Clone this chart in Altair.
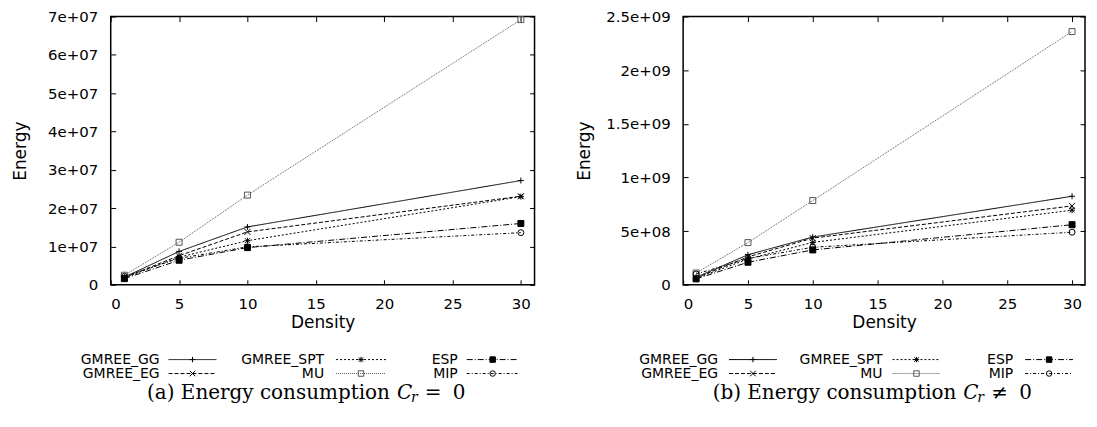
import altair as alt
import pandas as pd

# ---------------- data ----------------
density = [1, 5, 10, 30]
series = ["GMREE_GG", "GMREE_EG", "GMREE_SPT", "MU", "ESP", "MIP"]

# (a) C_r = 0
a_gg = [2.0e6, 8.7e6, 1.51e7, 2.72e7]
a_eg = [1.9e6, 7.6e6, 1.38e7, 2.31e7]
a_spt = [1.8e6, 7.2e6, 1.15e7, 2.30e7]
a_mu = [2.5e6, 1.11e7, 2.34e7, 6.92e7]
a_esp = [1.6e6, 6.4e6, 9.7e6, 1.60e7]
a_mip = [2.2e6, 6.9e6, 9.9e6, 1.36e7]

# (b) C_r != 0
b_gg = [7.0e7, 2.80e8, 4.45e8, 8.25e8]
b_eg = [6.5e7, 2.60e8, 4.35e8, 7.35e8]
b_spt = [6.0e7, 2.40e8, 3.95e8, 6.95e8]
b_mu = [1.1e8, 3.93e8, 7.85e8, 2.36e9]
b_esp = [5.5e7, 2.10e8, 3.25e8, 5.60e8]
b_mip = [1.0e8, 2.45e8, 3.50e8, 4.90e8]

a_ticks = [0, 1e7, 2e7, 3e7, 4e7, 5e7, 6e7, 7e7]
b_ticks = [0, 5e8, 1e9, 1.5e9, 2e9, 2.5e9]
x_ticks = [0, 5, 10, 15, 20, 25, 30]

# ---------------- styles ----------------
STROKES = ["black", "black", "black", "#555555", "black", "black"]
DASHES = [[1, 0], [4, 2], [2, 2], [1, 1], [6, 2, 1, 2], [3, 2, 1, 2]]
PLUS = "M-1,0L1,0M0,-1L0,1"
CROSS = "M-1,-1L1,1M-1,1L1,-1"
STAR = "M-1,0L1,0M0,-1L0,1M-0.8,-0.8L0.8,0.8M-0.8,0.8L0.8,-0.8"
SHAPES = [PLUS, CROSS, STAR, "square", "square", "circle"]
FILLS = ["transparent", "transparent", "transparent", "transparent", "black", "transparent"]

SANS = "DejaVu Sans"
SERIF = "DejaVu Serif"
H = 269


def enc_scales():
    return dict(
        stroke=alt.Stroke("series:N", scale=alt.Scale(domain=series, range=STROKES), legend=None),
        strokeDash=alt.StrokeDash("series:N", scale=alt.Scale(domain=series, range=DASHES), legend=None),
    )


def marker_enc():
    return dict(
        shape=alt.Shape("series:N", scale=alt.Scale(domain=series, range=SHAPES), legend=None),
        fill=alt.Fill("series:N", scale=alt.Scale(domain=series, range=FILLS), legend=None),
        stroke=alt.Stroke("series:N", scale=alt.Scale(domain=series, range=STROKES), legend=None),
    )


def panel(vals, W, ymax, yticks, title_pad, leg_lx, leg_sx, leg_y, cap):
    rows = []
    for s, v in zip(series, vals):
        for d, e in zip(density, v):
            rows.append({"series": s, "density": d, "energy": e})
    df = pd.DataFrame(rows)

    xs = alt.Scale(domain=[0, 31], nice=False, zero=False)
    ys = alt.Scale(domain=[0, ymax], nice=False)
    label_expr = "datum.value == 0 ? '0' : replace(format(datum.value, '~e'), 'e+', 'e+0')"

    x_axis = alt.Axis(values=x_ticks, orient="bottom", offset=-5, tickSize=5, domain=False,
                      grid=False, labelPadding=12, title="Density", titlePadding=3)
    y_axis = alt.Axis(values=yticks, orient="left", offset=-5, tickSize=5, domain=False,
                      grid=False, labelPadding=13, title="Energy", titlePadding=title_pad,
                      labelExpr=label_expr)
    x_axis2 = alt.Axis(values=x_ticks, orient="top", offset=-5, tickSize=5, domain=False,
                       grid=False, labels=False, title=None)
    y_axis2 = alt.Axis(values=yticks, orient="right", offset=-5, tickSize=5, domain=False,
                       grid=False, labels=False, title=None)

    lines = alt.Chart(df).mark_line(strokeWidth=1).encode(
        x=alt.X("density:Q", scale=xs, axis=x_axis),
        y=alt.Y("energy:Q", scale=ys, axis=y_axis),
        detail="series:N",
        **enc_scales(),
    )
    points = alt.Chart(df).mark_point(size=36, strokeWidth=1, opacity=1).encode(
        x=alt.X("density:Q", scale=xs, axis=x_axis2),
        y=alt.Y("energy:Q", scale=ys, axis=y_axis2),
        **marker_enc(),
    )

    # key (gnuplot style: label, then line sample with marker), 3 columns x 2 rows
    leg_rows = []
    for i, s in enumerate(series):
        c, r = i // 2, i % 2
        leg_rows.append({"series": s, "lx": leg_lx[c], "sx1": leg_sx[c][0], "sx2": leg_sx[c][1],
                         "mx": (leg_sx[c][0] + leg_sx[c][1]) / 2, "ly": leg_y[r]})
    leg = pd.DataFrame(leg_rows)
    leg_text = alt.Chart(leg).mark_text(align="right", baseline="middle", font=SANS, fontSize=14,
                                        color="black").encode(
        x=alt.X("lx:Q", scale=None), y=alt.Y("ly:Q", scale=None), text="series:N")
    leg_line = alt.Chart(leg).mark_rule(strokeWidth=1).encode(
        x=alt.X("sx1:Q", scale=None), x2="sx2:Q", y=alt.Y("ly:Q", scale=None), **enc_scales())
    leg_pt = alt.Chart(leg).mark_point(size=30, strokeWidth=1, opacity=1).encode(
        x=alt.X("mx:Q", scale=None), y=alt.Y("ly:Q", scale=None), **marker_enc())

    # caption
    cy = 378
    E = cap["end"]
    one = pd.DataFrame({"t": [0]})
    cap1 = alt.Chart(one).mark_text(align="right", baseline="middle", font=SERIF, fontSize=20,
                                    text=cap["main"]).encode(x=alt.value(E), y=alt.value(cy))
    capC = alt.Chart(one).mark_text(align="left", baseline="middle", font=SERIF, fontSize=20,
                                    fontStyle="italic", text="C").encode(x=alt.value(E + 7), y=alt.value(cy))
    capR = alt.Chart(one).mark_text(align="left", baseline="middle", font=SERIF, fontSize=14,
                                    fontStyle="italic", text="r").encode(x=alt.value(E + 21), y=alt.value(cy + 5))
    capO = alt.Chart(one).mark_text(align="left", baseline="middle", font=SERIF, fontSize=20,
                                    text=cap["op"]).encode(x=alt.value(E + 35), y=alt.value(cy))
    cap0 = alt.Chart(one).mark_text(align="left", baseline="middle", font=SERIF, fontSize=20,
                                    text="0").encode(x=alt.value(E + 63), y=alt.value(cy))

    return alt.layer(lines, points, leg_line, leg_pt, leg_text, cap1, capC, capR, capO, cap0).resolve_axis(
        x="independent", y="independent").properties(width=W, height=H)


left = panel([a_gg, a_eg, a_spt, a_mu, a_esp, a_mip], 425, 7e7, a_ticks, 18,
             [49, 214, 348], [[58, 106], [226, 276], [357, 409]], [344, 358],
             {"main": "(a) Energy consumption", "end": 280, "op": "="})
right = panel([b_gg, b_eg, b_spt, b_mu, b_esp, b_mip], 403, 2.5e9, b_ticks, 12,
              [35, 200, 331], [[46, 94], [210, 258], [343, 391]], [344, 358],
              {"main": "(b) Energy consumption", "end": 274, "op": "\u2260"})

chart = alt.hconcat(left, right, spacing=38).properties(
    padding={"left": 2, "top": 0, "right": 2, "bottom": 2}
).configure_view(stroke="black", strokeWidth=1.5).configure_axis(
    labelFont=SANS, labelFontSize=15, labelColor="black",
    titleFont=SANS, titleFontSize=17, titleFontWeight="normal", titleColor="black",
    tickColor="black", tickWidth=1,
)

chart.save("out.html", embed_options={"renderer": "svg", "actions": False})
